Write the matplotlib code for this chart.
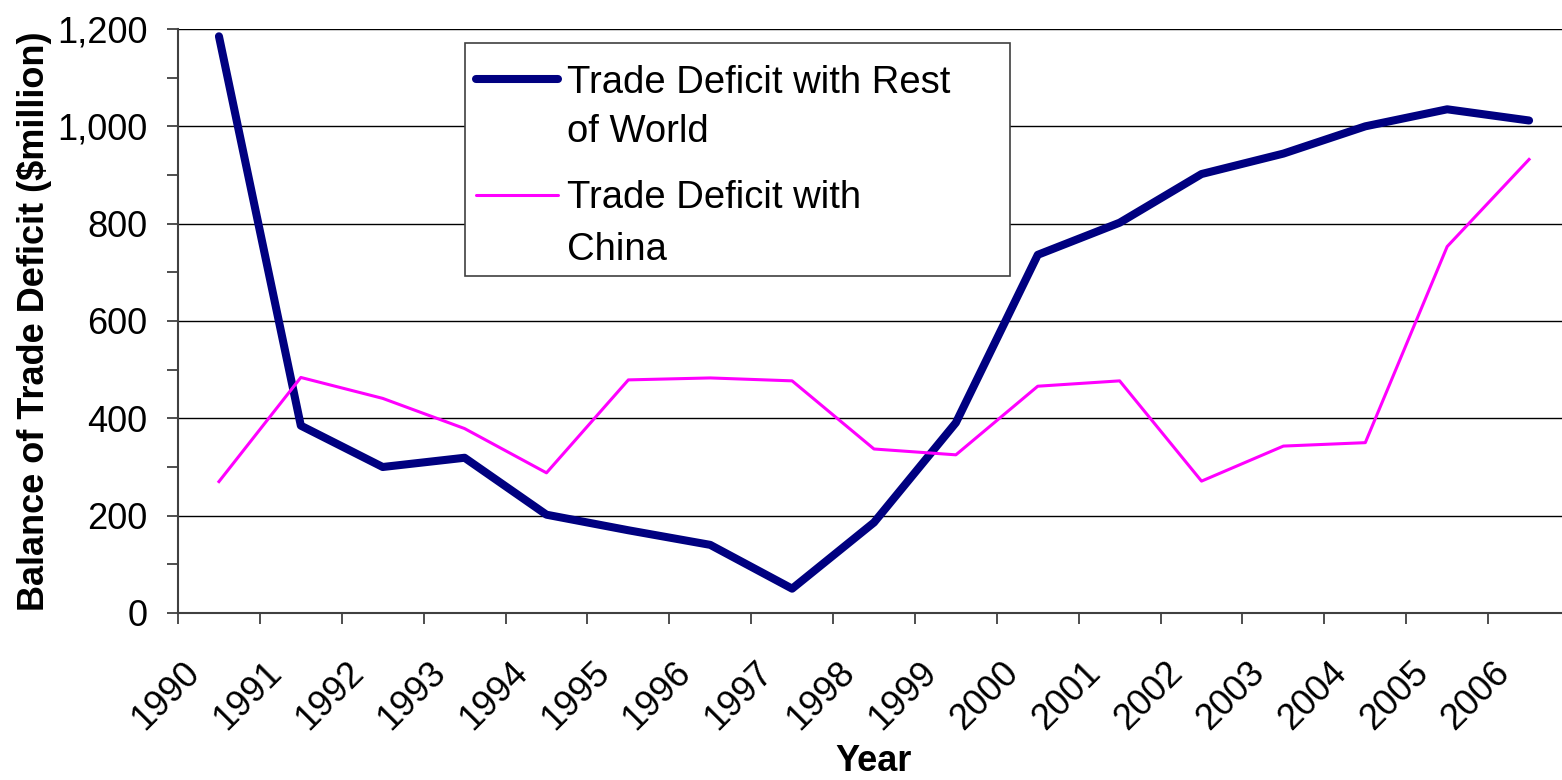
import numpy as np
import matplotlib
matplotlib.use('Agg')
from matplotlib import pyplot as plt
from matplotlib.lines import Line2D
from matplotlib.patches import Rectangle
from matplotlib.ticker import FuncFormatter, MultipleLocator
from matplotlib.transforms import ScaledTranslation

plt.rc('font', family='Liberation Sans')

# data ($ million)
years = ['1990', '1991', '1992', '1993', '1994', '1995', '1996', '1997', '1998',
         '1999', '2000', '2001', '2002', '2003', '2004', '2005', '2006']
rest_of_world = [1185, 385, 300, 319, 202, 170, 140, 50, 186,
                 391, 736, 802, 902, 944, 1000, 1035, 1012]
china = [270, 484, 441, 379, 288, 479, 483, 477, 337,
         325, 466, 477, 271, 343, 350, 753, 932]
legend_lines = [['Trade Deficit with Rest', 'of World'],
                ['Trade Deficit with', 'China']]

W, H = 1562, 780
NAVY = '#000080'
PINK = '#FF00FF'


def fpos(px, py):
    # pixel (top-left origin) -> figure fraction
    return px / W, 1 - py / H


fig = plt.figure(figsize=(W / 100, H / 100), dpi=100)
# plot area runs a little past the right edge, as in the original
ax = fig.add_axes([178 / W, 167 / H, 1392 / W, 584 / H])

x = np.arange(len(years))
ax.plot(x, rest_of_world, color=NAVY, lw=5.8, solid_capstyle='round', zorder=3)
ax.plot(x, china, color=PINK, lw=2.2, zorder=3)

ax.set_xlim(-0.5, len(years) - 0.5)
ax.set_ylim(0, 1200)

# category labels at centres, tick marks on the boundaries
ax.set_xticks(x, labels=years, rotation=45, ha='right')
ax.set_xticks(np.arange(-0.5, len(years), 1), minor=True)
ax.tick_params(axis='x', which='major', length=0, pad=30, labelsize=26)
ax.tick_params(axis='x', which='minor', length=8, width=1.3, color='#404040')
shift = ScaledTranslation(-0.12, 0, fig.dpi_scale_trans)
for lab in ax.get_xticklabels():
    lab.set_transform(lab.get_transform() + shift)

ax.yaxis.set_major_locator(MultipleLocator(200))
ax.yaxis.set_minor_locator(MultipleLocator(100))
ax.yaxis.set_major_formatter(FuncFormatter(lambda v, p: f'{v:,.0f}'))
ax.tick_params(axis='y', which='both', length=8, width=1.3, color='#404040',
               pad=14, labelsize=26)

ax.grid(axis='y', which='major', color='black', lw=1)
ax.set_axisbelow(True)

for s in ['top', 'right']:
    ax.spines[s].set_visible(False)
for s in ['left', 'bottom']:
    ax.spines[s].set_color('#404040')
    ax.spines[s].set_linewidth(1.5)

ax.set_ylabel('Balance of Trade Deficit ($million)', fontsize=26, fontweight='bold')
ax.yaxis.set_label_coords((52 - 178) / 1392, 0.5)
ax.set_xlabel('Year', fontsize=26, fontweight='bold')
ax.xaxis.set_label_coords(0.5, (613 - 744) / 584)

# legend box drawn by hand so the handle sits on the first text line
x0, y0 = fpos(465, 276)
x1, y1 = fpos(1010, 43)
fig.add_artist(Rectangle((x0, y0), x1 - x0, y1 - y0, transform=fig.transFigure,
                         facecolor='white', edgecolor='#404040', lw=1.2, zorder=5))
handles = [(NAVY, 5.8, 79), (PINK, 2.2, 195)]
baselines = [(93, 142), (208, 260)]
for (col, lw, hy), lines, bl in zip(handles, legend_lines, baselines):
    hx0, hyf = fpos(476, hy)
    hx1, _ = fpos(558, hy)
    fig.add_artist(Line2D([hx0, hx1], [hyf, hyf], color=col, lw=lw,
                          solid_capstyle='round', transform=fig.transFigure, zorder=6))
    for txt, by in zip(lines, bl):
        tx, ty = fpos(567, by)
        fig.text(tx, ty, txt, fontsize=27.5, va='baseline', ha='left', zorder=6)

fig.savefig('out.png', dpi=100)
